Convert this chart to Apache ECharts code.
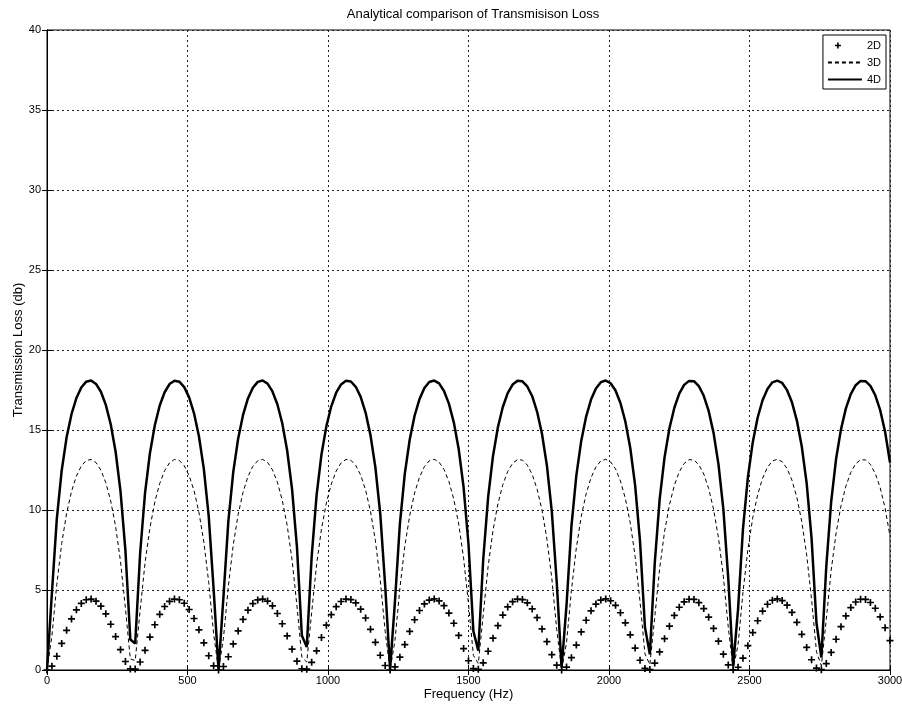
<!DOCTYPE html>
<html>
<head>
<meta charset="utf-8">
<title>Analytical comparison of Transmisison Loss</title>
<script src="https://cdn.jsdelivr.net/npm/echarts@6/dist/echarts.min.js"></script>
<style>
    html, body { margin: 0; padding: 0; background: #fff; }
    #chart_tl { width: 902px; height: 708px; }
</style>
</head>
<body>
<div id="chart_tl"></div>
<script>
// frequency axis: 173 samples from 0 to 3000 Hz
var fMax = 3000;
var nSamples = 173;

// transmission loss (db), one value per sample
var tl2d = [0, 0.24, 0.86, 1.66, 2.48, 3.19, 3.76, 4.16, 4.39, 4.43, 4.30, 3.99, 3.51, 2.86, 2.09, 1.27, 0.53, 0.07,
    0.06, 0.50, 1.23, 2.06, 2.83, 3.48, 3.97, 4.29, 4.43, 4.39, 4.17, 3.78, 3.22, 2.51, 1.70, 0.89, 0.26, 0.00,
    0.22, 0.83, 1.63, 2.44, 3.16, 3.74, 4.15, 4.38, 4.43, 4.31, 4.01, 3.53, 2.89, 2.13, 1.30, 0.55, 0.08,
    0.05, 0.48, 1.20, 2.03, 2.80, 3.46, 3.96, 4.28, 4.43, 4.40, 4.19, 3.80, 3.25, 2.54, 1.73, 0.92, 0.28, 0.00,
    0.20, 0.80, 1.59, 2.41, 3.14, 3.72, 4.13, 4.37, 4.44, 4.32, 4.02, 3.56, 2.92, 2.16, 1.34, 0.58, 0.09,
    0.04, 0.45, 1.17, 1.99, 2.77, 3.43, 3.94, 4.27, 4.43, 4.40, 4.20, 3.82, 3.27, 2.57, 1.77, 0.96, 0.30, 0.00,
    0.18, 0.77, 1.56, 2.38, 3.11, 3.70, 4.12, 4.37, 4.44, 4.33, 4.04, 3.58, 2.95, 2.20, 1.37, 0.61, 0.10,
    0.03, 0.43, 1.13, 1.96, 2.74, 3.41, 3.92, 4.26, 4.42, 4.41, 4.21, 3.84, 3.30, 2.60, 1.80, 0.99, 0.32, 0.01,
    0.17, 0.74, 1.52, 2.34, 3.08, 3.68, 4.11, 4.36, 4.44, 4.34, 4.05, 3.60, 2.98, 2.23, 1.41, 0.64, 0.12,
    0.02, 0.40, 1.10, 1.92, 2.71, 3.38, 3.90, 4.25, 4.42, 4.41, 4.22, 3.86, 3.32, 2.64, 1.84];

var tl3d = [0, 2.12, 5.35, 7.91, 9.79, 11.16, 12.12, 12.75, 13.09, 13.16, 12.97, 12.49, 11.70, 10.56, 8.97, 6.78, 3.86, 0.69,
    0.59, 3.72, 6.68, 8.89, 10.50, 11.66, 12.46, 12.95, 13.16, 13.10, 12.77, 12.15, 11.21, 9.86, 8.00, 5.47, 2.26, 0.01,
    1.98, 5.23, 7.82, 9.72, 11.11, 12.09, 12.73, 13.08, 13.16, 12.98, 12.51, 11.74, 10.61, 9.04, 6.89, 4.00, 0.80,
    0.50, 3.58, 6.57, 8.81, 10.44, 11.62, 12.43, 12.94, 13.16, 13.11, 12.79, 12.18, 11.25, 9.92, 8.09, 5.60, 2.40, 0.02,
    1.84, 5.11, 7.72, 9.65, 11.06, 12.05, 12.71, 13.08, 13.17, 12.99, 12.54, 11.78, 10.67, 9.12, 6.99, 4.13, 0.91,
    0.41, 3.44, 6.46, 8.73, 10.38, 11.58, 12.41, 12.92, 13.15, 13.12, 12.81, 12.22, 11.30, 9.99, 8.18, 5.72, 2.54, 0.04,
    1.71, 4.98, 7.63, 9.59, 11.01, 12.02, 12.69, 13.07, 13.17, 13.00, 12.57, 11.82, 10.72, 9.20, 7.10, 4.27, 1.02,
    0.33, 3.30, 6.34, 8.64, 10.32, 11.54, 12.38, 12.91, 13.15, 13.12, 12.83, 12.25, 11.34, 10.05, 8.27, 5.84, 2.68, 0.08,
    1.58, 4.85, 7.53, 9.52, 10.96, 11.98, 12.67, 13.06, 13.17, 13.02, 12.59, 11.86, 10.78, 9.27, 7.20, 4.40, 1.14,
    0.26, 3.16, 6.23, 8.56, 10.26, 11.49, 12.35, 12.89, 13.14, 13.13, 12.85, 12.28, 11.39, 10.12, 8.36];

var tl4d = [0, 4.80, 9.45, 12.47, 14.54, 15.99, 17.00, 17.66, 18.02, 18.09, 17.88, 17.39, 16.57, 15.36, 13.64, 11.17, 7.48, 1.91,
    1.66, 7.28, 11.05, 13.55, 15.30, 16.53, 17.36, 17.87, 18.08, 18.02, 17.68, 17.04, 16.04, 14.61, 12.57, 9.60, 5.04, 0.02,
    4.55, 9.29, 12.37, 14.46, 15.94, 16.97, 17.64, 18.01, 18.09, 17.90, 17.41, 16.61, 15.42, 13.72, 11.30, 7.68, 2.16,
    1.43, 7.09, 10.92, 13.47, 15.23, 16.48, 17.33, 17.85, 18.08, 18.03, 17.70, 17.07, 16.09, 14.68, 12.67, 9.75, 5.27, 0.06,
    4.31, 9.14, 12.26, 14.39, 15.89, 16.93, 17.62, 18.00, 18.09, 17.91, 17.44, 16.65, 15.48, 13.81, 11.42, 7.86, 2.42,
    1.20, 6.89, 10.79, 13.38, 15.17, 16.44, 17.30, 17.84, 18.08, 18.04, 17.72, 17.11, 16.14, 14.75, 12.77, 9.90, 5.50, 0.14,
    4.06, 8.98, 12.15, 14.32, 15.84, 16.90, 17.60, 17.99, 18.09, 17.92, 17.47, 16.69, 15.53, 13.89, 11.54, 8.04, 2.68,
    0.98, 6.68, 10.66, 13.29, 15.11, 16.39, 17.27, 17.82, 18.07, 18.05, 17.74, 17.14, 16.19, 14.82, 12.87, 10.05, 5.73, 0.24,
    3.81, 8.81, 12.04, 14.24, 15.78, 16.86, 17.57, 17.98, 18.09, 17.94, 17.49, 16.73, 15.59, 13.97, 11.66, 8.22, 2.94,
    0.78, 6.47, 10.53, 13.20, 15.04, 16.35, 17.24, 17.80, 18.07, 18.05, 17.76, 17.17, 16.24, 14.89, 12.97];

var seriesNames = ['2D', '3D', '4D'];

// pair each value with its frequency
function withFreq(values) {
    return values.map(function (v, i) {
        return [i * fMax / (nSamples - 1), v];
    });
}

var myChart = echarts.init(document.getElementById('chart_tl'), null, {renderer: 'canvas'});
var font = 'Liberation Sans, Arial, sans-serif';
var plusIcon = 'path://M3.8,0H6.2V3.8H10V6.2H6.2V10H3.8V6.2H0V3.8H3.8Z';
// legend version: small plus near the left of a 34x10 box (corner specks set the box)
var plusLegend = 'path://M0,0h0.05v0.05h-0.05Z M33.95,9.95h0.05v0.05h-0.05Z ' +
    'M9.2,2H10.8V4.2H13V5.8H10.8V8H9.2V5.8H7V4.2H9.2Z';

var gridLine = {show: true, lineStyle: {color: '#222', width: 1, type: [2, 3]}};
var tickIn = {show: true, inside: true, length: 5, lineStyle: {color: '#000'}};

// plain numbers, no thousands separator
function plain(v) {
    return String(v);
}

var option = {
    animation: false,
    backgroundColor: '#fff',
    textStyle: {fontFamily: font},
    title: {
        text: 'Analytical comparison of Transmisison Loss',
        left: 468,
        top: 3,
        textAlign: 'center',
        textStyle: {fontFamily: font, fontSize: 13, fontWeight: 'normal', color: '#000'}
    },
    grid: {
        left: 47, right: 12, top: 30, bottom: 38,
        containLabel: false,
        outerBoundsMode: 'none',
        show: true, borderColor: '#000', borderWidth: 1, backgroundColor: '#fff'
    },
    legend: {
        orient: 'vertical',
        right: 16,
        top: 35,
        itemWidth: 34,
        itemHeight: 10,
        itemGap: 6,
        padding: [5, 5, 4, 4],
        backgroundColor: '#fff',
        borderColor: '#000',
        borderWidth: 1,
        borderRadius: 0,
        textStyle: {fontFamily: font, fontSize: 11, color: '#000'},
        data: [
            {name: seriesNames[0], icon: plusLegend, itemStyle: {color: '#000'}},
            {name: seriesNames[1], itemStyle: {color: 'transparent', borderWidth: 0, opacity: 0}},
            {name: seriesNames[2], itemStyle: {color: 'transparent', borderWidth: 0, opacity: 0}}
        ]
    },
    xAxis: [{
        type: 'value', min: 0, max: fMax, interval: 500,
        name: 'Frequency (Hz)', nameLocation: 'middle', nameGap: 18,
        nameMoveOverlap: false,
        nameTextStyle: {fontFamily: font, fontSize: 13, color: '#000'},
        axisLine: {lineStyle: {color: '#000'}},
        axisTick: tickIn,
        axisLabel: {fontFamily: font, fontSize: 11, color: '#000', margin: 5, formatter: plain},
        splitLine: gridLine
    }, {
        type: 'value', min: 0, max: fMax, interval: 500, position: 'top',
        axisLine: {show: true, lineStyle: {color: '#000'}},
        axisTick: tickIn, axisLabel: {show: false}, splitLine: {show: false}
    }],
    yAxis: [{
        type: 'value', min: 0, max: 40, interval: 5,
        name: 'Transmission Loss (db)', nameLocation: 'middle', nameGap: 22,
        nameMoveOverlap: false,
        nameTextStyle: {fontFamily: font, fontSize: 13, color: '#000'},
        axisLine: {show: true, lineStyle: {color: '#000'}},
        axisTick: tickIn,
        axisLabel: {fontFamily: font, fontSize: 11, color: '#000', margin: 6, formatter: plain},
        splitLine: gridLine
    }, {
        type: 'value', min: 0, max: 40, interval: 5, position: 'right',
        axisLine: {show: true, lineStyle: {color: '#000'}},
        axisTick: tickIn, axisLabel: {show: false}, splitLine: {show: false}
    }],
    series: [{
        name: seriesNames[0],
        type: 'scatter',
        symbol: plusIcon,
        symbolSize: 7,
        itemStyle: {color: '#000', opacity: 1},
        data: withFreq(tl2d),
        z: 3
    }, {
        name: seriesNames[1],
        type: 'line',
        symbol: 'none',
        showSymbol: false,
        lineStyle: {color: '#000', width: 1, type: [4, 3]},
        itemStyle: {color: '#000'},
        data: withFreq(tl3d),
        z: 2
    }, {
        name: seriesNames[2],
        type: 'line',
        symbol: 'none',
        showSymbol: false,
        lineStyle: {color: '#000', width: 2.5},
        itemStyle: {color: '#000'},
        data: withFreq(tl4d),
        z: 2
    }]
};

myChart.setOption(option);
window.addEventListener('resize', function () {
    myChart.resize();
});
</script>
</body>
</html>
